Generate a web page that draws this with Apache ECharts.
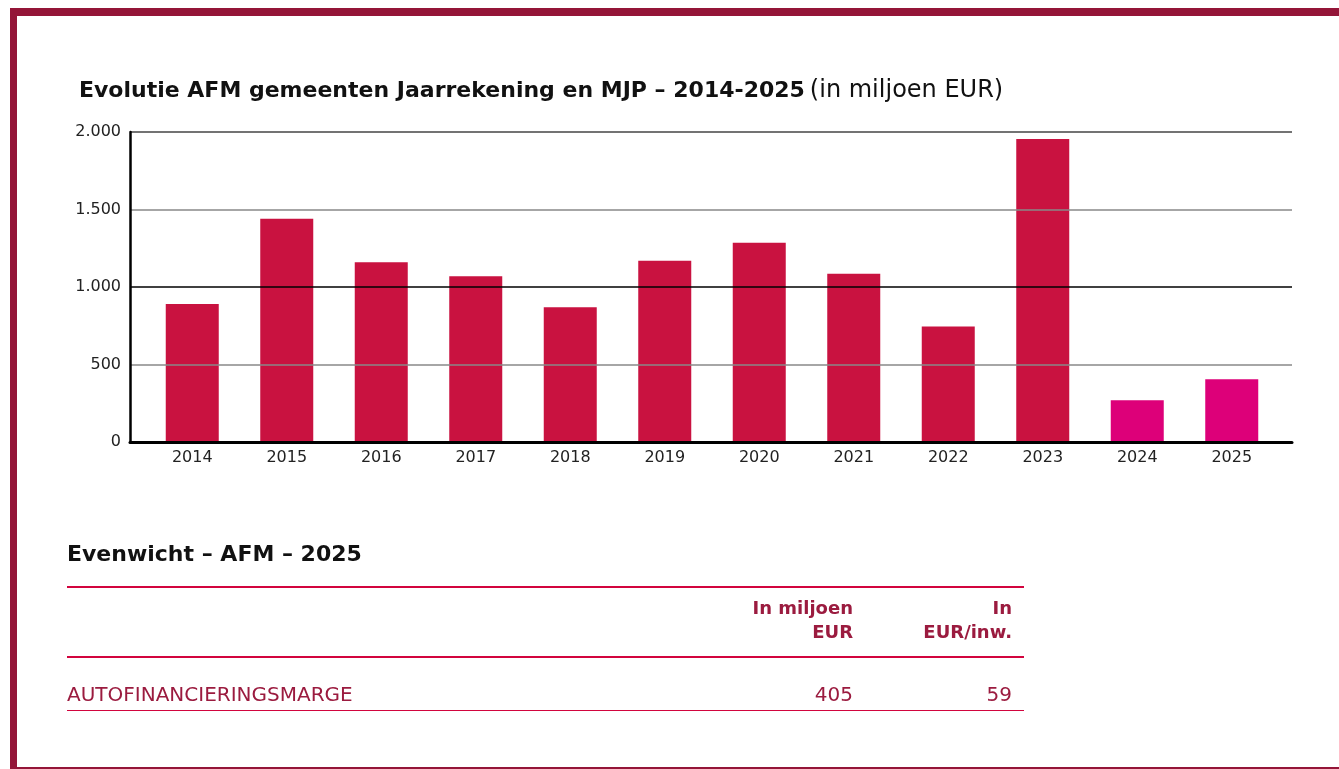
<!DOCTYPE html>
<html>
<head>
<meta charset="utf-8">
<script src="https://cdn.jsdelivr.net/npm/echarts@6/dist/echarts.min.js"></script>
<style>
  html, body { margin: 0; padding: 0; background: #fff; }
  #main { width: 1339px; height: 769px; }
</style>
</head>
<body>
<div id="main"></div>
<script>
// data
const years = ['2014','2015','2016','2017','2018','2019','2020','2021','2022','2023','2024','2025'];
const afm = [890, 1440, 1160, 1070, 870, 1170, 1285, 1085, 745, 1955, 270, 405];
const mjpYears = ['2024','2025'];
const yTicks = [0, 500, 1000, 1500, 2000];
const tableTitle = 'Evenwicht – AFM – 2025';
const tableHeads = ['In miljoen\nEUR', 'In\nEUR/inw.'];
const tableRowLabel = 'AUTOFINANCIERINGSMARGE';
const tableValues = [405, 59];

const FONT = '"DejaVu Sans", sans-serif';
const RED = '#c91240';
const MAGENTA = '#dd0079';
const WINE = '#9b1b3f';
const LINE = '#d2043e';

function fmt(v){
  return String(v).replace(/\B(?=(\d{3})+(?!\d))/g, '.');
}

var chart = echarts.init(document.getElementById('main'));

var colX = [853, 1012];
var graphic = [
  // kader
  {type:'rect', shape:{x:10, y:8, width:1329, height:8}, style:{fill:'#941538'}},
  {type:'rect', shape:{x:10, y:8, width:7, height:761}, style:{fill:'#941538'}},
  {type:'rect', shape:{x:10, y:767, width:1329, height:2}, style:{fill:'#941538'}},
  // tabel
  {type:'text', style:{text:tableTitle, x:67, y:555, verticalAlign:'middle', fill:'#111',
     font:'bold 22px ' + FONT}},
  {type:'rect', shape:{x:67, y:586, width:957, height:2}, style:{fill:LINE}},
  {type:'rect', shape:{x:67, y:656, width:957, height:2}, style:{fill:LINE}},
  {type:'rect', shape:{x:67, y:710, width:957, height:1}, style:{fill:LINE}},
  {type:'text', style:{text:tableRowLabel, x:67, y:696, verticalAlign:'middle', fill:WINE,
     font:'20px ' + FONT}}
];
tableHeads.forEach(function(h, i){
  graphic.push({type:'text', style:{text:h, x:colX[i], y:621, align:'right', verticalAlign:'middle',
    fill:WINE, font:'bold 18px ' + FONT, lineHeight:24}});
  graphic.push({type:'text', style:{text:String(tableValues[i]), x:colX[i], y:696, align:'right',
    verticalAlign:'middle', fill:WINE, font:'20px ' + FONT}});
});

var option = {
  animation: false,
  title: {
    left: 79, top: 79, padding: 0,
    text: '{b|Evolutie AFM gemeenten Jaarrekening en MJP – 2014-2025} {n|(in miljoen EUR)}',
    textStyle: {
      rich: {
        b: {fontFamily: FONT, fontWeight: 'bold', fontSize: 22, color: '#111'},
        n: {fontFamily: FONT, fontWeight: 'normal', fontSize: 24, color: '#111'}
      }
    }
  },
  grid: [
    {left: 130, right: 47, top: 132, bottom: 327},
    {left: 145, right: 60, top: 132, bottom: 327}
  ],
  xAxis: [
    {gridIndex: 0, type: 'category', data: [''], z: 5,
     axisLine: {lineStyle: {color: '#000', width: 3}},
     axisTick: {show: false}, axisLabel: {show: false}},
    {gridIndex: 1, type: 'category', data: years,
     axisLine: {show: false}, axisTick: {show: false},
     axisLabel: {fontFamily: FONT, fontSize: 16, color: '#222', margin: 8}}
  ],
  yAxis: [
    {gridIndex: 0, type: 'value', min: yTicks[0], max: yTicks[yTicks.length - 1], interval: 500, z: 5,
     axisLine: {show: true, lineStyle: {color: '#000', width: 2.5}},
     axisTick: {show: false},
     axisLabel: {fontFamily: FONT, fontSize: 16, color: '#222', margin: 9, formatter: fmt},
     splitLine: {lineStyle: {color: ['#000', '#888', '#000', '#888', '#444'], width: 1.5}}},
    {gridIndex: 1, type: 'value', min: yTicks[0], max: yTicks[yTicks.length - 1],
     show: false, splitLine: {show: false}}
  ],
  series: [{
    type: 'bar', xAxisIndex: 1, yAxisIndex: 1, barWidth: 53,
    data: afm,
    itemStyle: {
      color: function(p){ return mjpYears.indexOf(p.name) > -1 ? MAGENTA : RED; }
    }
  }],
  graphic: graphic
};
chart.setOption(option);
</script>
</body>
</html>
